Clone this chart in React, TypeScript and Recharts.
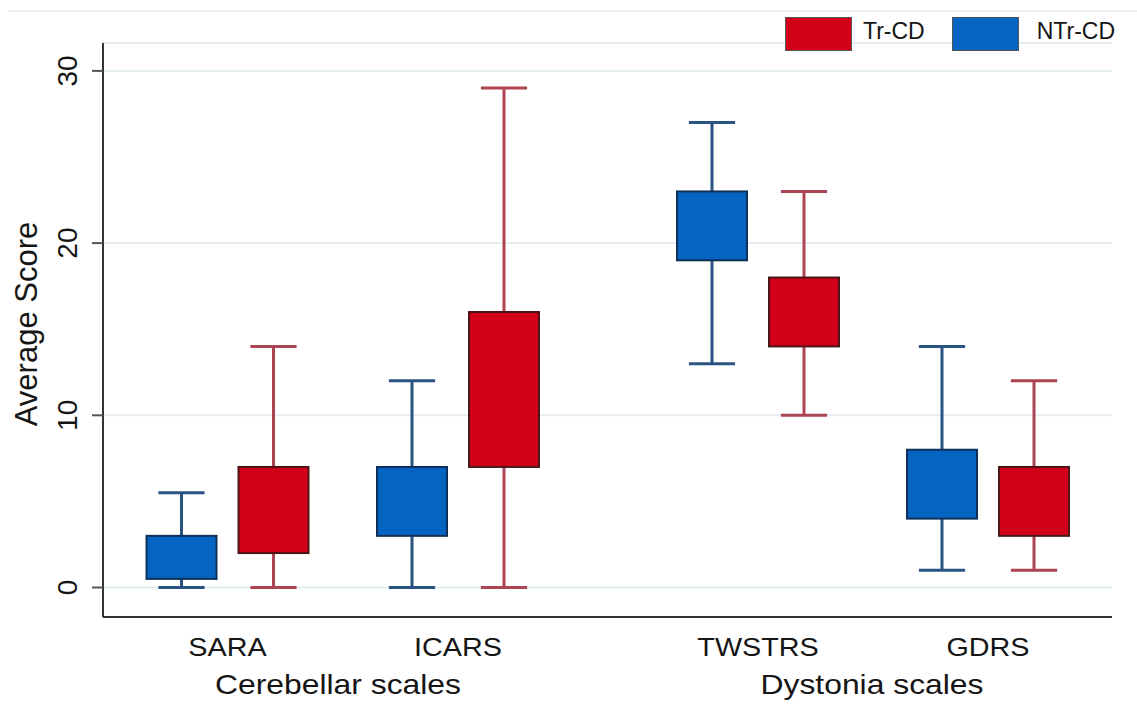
import React from 'react';
import { ComposedChart, Bar, XAxis, YAxis, CartesianGrid, Legend } from 'recharts';

const FONT = '"Liberation Sans", Arial, Helvetica, sans-serif';

// categories and their positions along the x axis (axis units)
const scales = ['SARA', 'ICARS', 'TWSTRS', 'GDRS'];
const scalePos = [1.245, 3.55, 6.55, 8.85];
const groups = ['Cerebellar scales', 'Dystonia scales'];
const groupPos = [2.35, 7.69];
const yTicks = [0, 10, 20, 30];

// NTr-CD box stats
const ntrLow = [0, 0, 13, 1];
const ntrQ1 = [0.5, 3, 19, 4];
const ntrQ3 = [3, 7, 23, 8];
const ntrHigh = [5.5, 12, 27, 14];

// Tr-CD box stats
const trLow = [0, 0, 10, 1];
const trQ1 = [2, 7, 14, 3];
const trQ3 = [7, 16, 18, 7];
const trHigh = [14, 29, 23, 12];

const series = [
  { name: 'NTr-CD', low: ntrLow, q1: ntrQ1, q3: ntrQ3, high: ntrHigh, fill: '#0563c1', stroke: '#10305a', whisker: '#2a5484', side: -1 },
  { name: 'Tr-CD', low: trLow, q1: trQ1, q3: trQ3, high: trHigh, fill: '#d20019', stroke: '#4d1515', whisker: '#ad4452', side: 1 },
];
const legendOrder = ['Tr-CD', 'NTr-CD'];

const BOX_OFFSET = 0.46;

const boxes = series.flatMap((s) =>
  scales.map((name, i) => ({
    name,
    series: s.name,
    x: scalePos[i] + s.side * BOX_OFFSET,
    box: [s.q1[i], s.q3[i]],
    low: s.low[i],
    q1: s.q1[i],
    q3: s.q3[i],
    high: s.high[i],
    fill: s.fill,
    stroke: s.stroke,
    whisker: s.whisker,
  }))
);

function BoxShape(props: any) {
  const { x, y, width, height } = props;
  const d = props.payload ?? props;
  const top = Math.min(y, y + height);
  const h = Math.abs(height);
  const unit = h / (d.q3 - d.q1);
  const cx = x + width / 2;
  const hiY = top - (d.high - d.q3) * unit;
  const loY = top + h + (d.q1 - d.low) * unit;
  const cap = width * 0.33;
  return (
    <g>
      <line x1={cx} x2={cx} y1={hiY} y2={top} stroke={d.whisker} strokeWidth={3} />
      <line x1={cx} x2={cx} y1={top + h} y2={loY} stroke={d.whisker} strokeWidth={3} />
      <line x1={cx - cap} x2={cx + cap} y1={hiY} y2={hiY} stroke={d.whisker} strokeWidth={3} />
      <line x1={cx - cap} x2={cx + cap} y1={loY} y2={loY} stroke={d.whisker} strokeWidth={3} />
      <rect x={x} y={top} width={width} height={h} fill={d.fill} stroke={d.stroke} strokeWidth={2} />
    </g>
  );
}

function YTick({ x, y, payload }: any) {
  return (
    <text
      transform={`translate(${x},${y}) rotate(-90)`}
      textAnchor="middle"
      fontSize={28}
      fontFamily={FONT}
      fill="#151515"
    >
      {payload.value}
    </text>
  );
}

function CatTick({ x, y, index }: any) {
  return (
    <text
      transform={`translate(${x},${y + 39}) scale(1.15,1)`}
      textAnchor="middle"
      fontSize={25}
      fontFamily={FONT}
      fill="#151515"
    >
      {scales[index]}
    </text>
  );
}

function GroupTick({ x, y, index }: any) {
  return (
    <text
      transform={`translate(${x},${y + 37}) scale(1.18,1)`}
      textAnchor="middle"
      fontSize={27}
      fontFamily={FONT}
      fill="#151515"
    >
      {groups[index]}
    </text>
  );
}

function YLabel({ viewBox }: any) {
  const lx = viewBox.x - 6.5;
  const ly = viewBox.y + viewBox.height / 2 - 6;
  return (
    <text
      transform={`translate(${lx},${ly}) rotate(-90)`}
      textAnchor="middle"
      fontSize={31}
      fontFamily={FONT}
      fill="#151515"
    >
      Average Score
    </text>
  );
}

function LegendBox() {
  return (
    <div style={{ display: 'flex', alignItems: 'center', fontFamily: FONT, fontSize: 23, color: '#151515', lineHeight: 1 }}>
      {legendOrder.map((name, i) => {
        const s = series.find((d) => d.name === name)!;
        return (
          <div key={name} style={{ display: 'flex', alignItems: 'center', marginLeft: i ? 27 : 0 }}>
            <span
              style={{ display: 'inline-block', width: 67, height: 34, background: s.fill, border: '1px solid #555', boxSizing: 'border-box' }}
            />
            <span style={{ marginLeft: i ? 18 : 11, marginTop: -5 }}>{name}</span>
          </div>
        );
      })}
    </div>
  );
}

export default function App() {
  return (
    <div style={{ position: 'absolute', left: 0, top: 0, width: 1137, height: 714, background: '#fff' }}>
      <div style={{ position: 'absolute', left: 8, top: 10, width: 1129, height: 2, background: '#e6eef1' }} />
      <ComposedChart width={1137} height={714} data={boxes} margin={{ top: 43, right: 25, bottom: 0, left: 43 }}>
        <CartesianGrid vertical={false} stroke="#e4edf0" strokeWidth={2} />
        <XAxis
          dataKey="x"
          type="number"
          domain={[0, 10.09]}
          allowDataOverflow
          ticks={scalePos}
          interval={0}
          height={40}
          tickSize={0}
          tickMargin={0}
          tickLine={false}
          axisLine={{ stroke: '#333', strokeWidth: 2 }}
          tick={<CatTick />}
        />
        <XAxis
          xAxisId="grp"
          dataKey="x"
          type="number"
          domain={[0, 10.09]}
          allowDataOverflow
          ticks={groupPos}
          interval={0}
          height={57}
          tickSize={0}
          tickMargin={0}
          tickLine={false}
          axisLine={false}
          tick={<GroupTick />}
        />
        <YAxis
          type="number"
          domain={[-1.713, 31.62]}
          allowDataOverflow
          ticks={yTicks}
          interval={0}
          width={60}
          tickSize={11}
          tickMargin={15}
          tickLine={{ stroke: '#555', strokeWidth: 2 }}
          axisLine={{ stroke: '#333', strokeWidth: 2 }}
          tick={<YTick />}
          label={<YLabel />}
        />
        <Legend
          layout="horizontal"
          verticalAlign="middle"
          align="center"
          wrapperStyle={{ top: 17, left: 785, width: 'auto', height: 'auto' }}
          content={() => <LegendBox />}
        />
        <Bar dataKey="box" barSize={70} shape={<BoxShape />} isAnimationActive={false} />
      </ComposedChart>
    </div>
  );
}
